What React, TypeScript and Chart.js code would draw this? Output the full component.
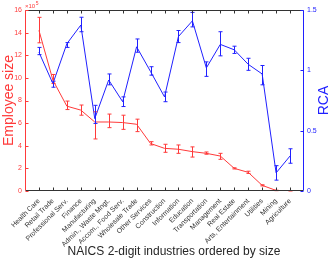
import React, { useEffect, useRef } from "react";
import { Chart, registerables } from "chart.js";

Chart.register(...registerables);

const categories = [
  "Health Care", "Retail Trade", "Professional Serv.", "Finance", "Manufacturing",
  "Admin., Waste Mngt.", "Accom., Food Serv.", "Wholesale Trade", "Other Services",
  "Construction", "Information", "Education", "Transportation", "Management",
  "Real Estate", "Arts, Entertainment", "Utilities", "Mining", "Agriculture",
];

// Employee size (x10^5)
const empSize = [14.2, 9.8, 7.5, 7.15, 6.1, 6.1, 6.05, 5.9, 4.2, 3.77, 3.69, 3.48, 3.33, 3.09, 2.0, 1.65, 0.5, 0.05, 0.02];
const empLow = [13.1, 9.5, 7.2, 6.7, 4.6, 5.6, 5.45, 5.25, 4.07, 3.42, 3.33, 3.0, 3.25, 2.8, 1.95, 1.55, 0.45, 0.03, 0.01];
const empHigh = [15.35, 10.3, 7.95, 7.6, 7.0, 6.8, 6.7, 6.35, 4.36, 4.13, 4.07, 3.9, 3.45, 3.33, 2.05, 1.75, 0.55, 0.07, 0.03];

// RCA
const rca = [1.15, 0.89, 1.22, 1.375, 0.6, 0.92, 0.74, 1.195, 0.99, 0.78, 1.28, 1.41, 1.02, 1.215, 1.17, 1.05, 0.97, 0.15, 0.29];
const rcaLow = [1.13, 0.86, 1.19, 1.32, 0.56, 0.88, 0.7, 1.15, 0.96, 0.74, 1.23, 1.36, 0.95, 1.12, 1.14, 1.0, 0.88, 0.09, 0.23];
const rcaHigh = [1.19, 0.91, 1.23, 1.44, 0.71, 0.97, 0.78, 1.26, 1.03, 0.82, 1.33, 1.48, 1.07, 1.32, 1.2, 1.1, 1.04, 0.21, 0.35];

const leftTicks = [0, 2, 4, 6, 8, 10, 12, 14, 16];
const rightTicks = [0, 0.5, 1, 1.5];

const RED = "#ff3a3a";
const BLUE = "#2020ff";
const AXIS = "#333333";
const FONT = "'Liberation Sans', Arial, sans-serif";

export default function App() {
  const ref = useRef<HTMLCanvasElement>(null);
  useEffect(() => {
    document.body.style.margin = "0";
    const errPlugin = {
      id: "extras",
      afterDatasetsDraw(chart: any) {
        const ctx = chart.ctx;
        const x = chart.scales.x;
        const yl = chart.scales.y;
        const yr = chart.scales.y1;
        ctx.save();
        ctx.lineWidth = 1;
        const drawErr = (lo: number[], hi: number[], sc: any, col: string) => {
          ctx.strokeStyle = col;
          lo.forEach((l, i) => {
            const px = Math.round(x.getPixelForValue(i + 1)) + 0.5;
            const a = sc.getPixelForValue(l);
            const b = sc.getPixelForValue(hi[i]);
            ctx.beginPath();
            ctx.moveTo(px, a); ctx.lineTo(px, b);
            ctx.moveTo(px - 2, a); ctx.lineTo(px + 2, a);
            ctx.moveTo(px - 2, b); ctx.lineTo(px + 2, b);
            ctx.stroke();
          });
        };
        drawErr(empLow, empHigh, yl, RED);
        drawErr(rcaLow, rcaHigh, yr, BLUE);
        ctx.restore();
      },
      afterDraw(chart: any) {
        const ctx = chart.ctx;
        const x = chart.scales.x;
        const yl = chart.scales.y;
        const yr = chart.scales.y1;
        const ca = chart.chartArea;
        ctx.save();
        ctx.lineWidth = 1;
        const L = Math.round(ca.left) + 0.5;
        const R = Math.round(ca.right) - 0.5;
        const T = Math.round(ca.top) + 0.5;
        const B = Math.round(ca.bottom) - 0.5;
        ctx.strokeStyle = AXIS;
        ctx.beginPath();
        ctx.moveTo(L, T); ctx.lineTo(R, T);
        ctx.moveTo(L, B); ctx.lineTo(R, B);
        categories.forEach((_, i) => {
          const px = Math.round(x.getPixelForValue(i + 1)) + 0.5;
          ctx.moveTo(px, T); ctx.lineTo(px, T + 3);
          ctx.moveTo(px, B); ctx.lineTo(px, B - 3);
        });
        ctx.stroke();
        ctx.strokeStyle = RED;
        ctx.beginPath();
        ctx.moveTo(L, T); ctx.lineTo(L, B);
        leftTicks.forEach((v) => {
          const py = Math.round(yl.getPixelForValue(v)) + 0.5;
          ctx.moveTo(L, py); ctx.lineTo(L + 3, py);
        });
        ctx.stroke();
        ctx.strokeStyle = BLUE;
        ctx.beginPath();
        ctx.moveTo(R, T); ctx.lineTo(R, B);
        rightTicks.forEach((v) => {
          const py = Math.round(yr.getPixelForValue(v)) + 0.5;
          ctx.moveTo(R, py); ctx.lineTo(R - 3, py);
        });
        ctx.stroke();
        ctx.fillStyle = RED;
        ctx.font = `6px ${FONT}`;
        ctx.textBaseline = "alphabetic";
        ctx.textAlign = "left";
        ctx.fillText("\u00d710", ca.left, ca.top - 2);
        const w = ctx.measureText("\u00d710").width;
        ctx.font = `5px ${FONT}`;
        ctx.fillText("5", ca.left + w + 0.5, ca.top - 5);
        ctx.font = `14px ${FONT}`;
        ctx.textAlign = "center";
        ctx.textBaseline = "middle";
        ctx.save();
        ctx.translate(9, (ca.top + ca.bottom) / 2);
        ctx.rotate(-Math.PI / 2);
        ctx.fillStyle = RED;
        ctx.fillText("Employee size", 0, 0);
        ctx.restore();
        ctx.save();
        ctx.translate(324, (ca.top + ca.bottom) / 2);
        ctx.rotate(-Math.PI / 2);
        ctx.fillStyle = BLUE;
        ctx.fillText("RCA", 0, 0);
        ctx.restore();
        ctx.fillStyle = "#262626";
        ctx.font = `12px ${FONT}`;
        ctx.fillText("NAICS 2-digit industries ordered by size", 174, 252);
        ctx.restore();
      },
    };

    const chart = new Chart(ref.current!, {
      type: "line",
      data: {
        datasets: [
          {
            label: "Employee size",
            data: empSize.map((v, i) => ({ x: i + 1, y: v })),
            borderColor: RED,
            borderWidth: 1,
            pointRadius: 0,
            yAxisID: "y",
            tension: 0,
          },
          {
            label: "RCA",
            data: rca.map((v, i) => ({ x: i + 1, y: v })),
            borderColor: BLUE,
            borderWidth: 1,
            pointRadius: 0,
            yAxisID: "y1",
            tension: 0,
          },
        ],
      },
      options: {
        animation: false,
        responsive: false,
        maintainAspectRatio: false,
        layout: { padding: { top: 10, left: 0, right: 0, bottom: 0 } },
        plugins: { legend: { display: false }, tooltip: { enabled: false } },
        scales: {
          x: {
            type: "linear",
            min: 0,
            max: 20,
            afterBuildTicks: (s: any) => {
              s.ticks = categories.map((_, i) => ({ value: i + 1 }));
            },
            afterFit: (s: any) => { s.height = 72; },
            grid: { display: false, drawTicks: false },
            border: { display: false },
            ticks: {
              autoSkip: false,
              minRotation: 45,
              maxRotation: 45,
              padding: 6,
              color: "#333",
              font: { size: 7, family: FONT },
              callback: (v: any) => categories[Number(v) - 1] ?? "",
            },
          },
          y: {
            position: "left",
            min: 0,
            max: 16,
            afterBuildTicks: (s: any) => { s.ticks = leftTicks.map((v) => ({ value: v })); },
            afterFit: (s: any) => { s.width = 25; },
            grid: { display: false, drawTicks: false },
            border: { display: false },
            ticks: { padding: 3, color: RED, font: { size: 7, family: FONT } },
          },
          y1: {
            position: "right",
            min: 0,
            max: 1.5,
            afterBuildTicks: (s: any) => { s.ticks = rightTicks.map((v) => ({ value: v })); },
            afterFit: (s: any) => { s.width = 28; },
            grid: { display: false, drawTicks: false },
            border: { display: false },
            ticks: { padding: 3, color: BLUE, font: { size: 7, family: FONT }, callback: (v: any) => String(v) },
          },
        },
      },
      plugins: [errPlugin],
    } as any);
    return () => chart.destroy();
  }, []);
  return (
    <div style={{ width: 332, height: 263, background: "#fff" }}>
      <canvas ref={ref} width={332} height={263} style={{ display: "block", width: 332, height: 263 }} />
    </div>
  );
}
